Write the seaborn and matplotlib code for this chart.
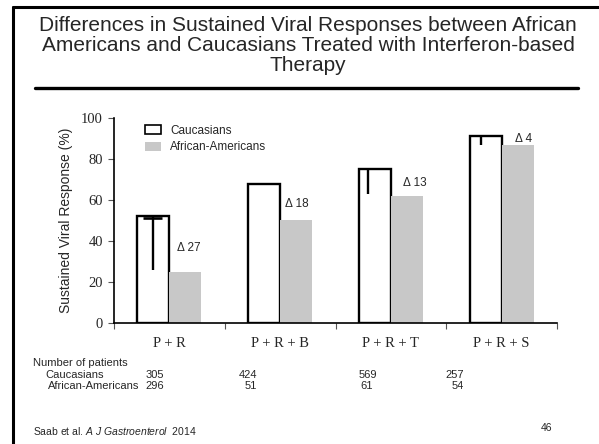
import matplotlib
matplotlib.use("Agg")
import matplotlib.pyplot as plt
from matplotlib.lines import Line2D
from matplotlib.patches import Patch
import seaborn as sns
import pandas as pd

# ---- data ----
regimens = ["P + R", "P + R + B", "P + R + T", "P + R + S"]
caucasians = [52, 68, 75, 91]
african_americans = [25, 50, 62, 87]
cauc_lower = [26, None, 63, 87]          # lower end of the black line inside white bars
n_cauc = ["305", "424", "569", "257"]
n_aa = ["296", "51", "61", "54"]
yticks = [0, 20, 40, 60, 80, 100]
title = ("Differences in Sustained Viral Responses between African\n"
         "Americans and Caucasians Treated with Interferon-based\nTherapy")
ylabel = "Sustained Viral Response (%)"

df = pd.DataFrame({
    "regimen": regimens * 2,
    "svr": caucasians + african_americans,
    "group": ["Caucasians"] * 4 + ["African-Americans"] * 4,
})

sns.set_style("ticks")
plt.rcParams["font.family"] = ["Liberation Sans", "DejaVu Sans"]
plt.rcParams["mathtext.fontset"] = "custom"
plt.rcParams["mathtext.it"] = "Liberation Sans:italic"
plt.rcParams["mathtext.rm"] = "Liberation Sans"

W, H = 599, 444
fig = plt.figure(figsize=(W / 100, H / 100), dpi=100)
ax = fig.add_axes([114 / W, 1 - 323 / H, (557 - 114) / W, (323 - 118) / H])

sns.barplot(data=df, x="regimen", y="svr", hue="group",
            palette={"Caucasians": "white", "African-Americans": "#c8c8c8"},
            width=0.58, gap=0, ax=ax, legend=False, saturation=1)

for p in ax.containers[0]:
    p.set_edgecolor("black")
    p.set_linewidth(1.7)
for p in ax.containers[1]:
    p.set_linewidth(0)

# black lines inside white bars
line_dx = [0.0, 0.0, -0.063, -0.045]
for i, (top, low) in enumerate(zip(caucasians, cauc_lower)):
    if low is None:
        continue
    xc = i - 0.145 + line_dx[i]
    ax.vlines(xc, low, top - 0.5, color="black", lw=1.7, zorder=5)
    if i == 0:
        ax.hlines(top - 0.7, xc - 0.09, xc + 0.08, color="black", lw=1.9, zorder=5)

# delta labels
delta_dy = [11.5, 8, 6.5, 3]
delta_dx = [0.03, 0.01, 0.07, 0.05]
for i, (c, a) in enumerate(zip(caucasians, african_americans)):
    ax.text(i + 0.145 + delta_dx[i], a + delta_dy[i], f"\u0394 {c - a}",
            ha="center", va="center", fontsize=8.5)

ax.set_ylim(0, 100)
ax.set_xlim(-0.5, 3.5)
ax.set_yticks(yticks)
ax.set_yticklabels([str(v) for v in yticks], family="Liberation Serif", fontsize=10.5)
ax.set_xticks(range(4))
ax.set_xticklabels(regimens, family="Liberation Serif", fontsize=10.5)
ax.set_xticks([-0.5, 0.5, 1.5, 2.5, 3.5], minor=True)
ax.tick_params(axis="x", which="major", length=0, pad=10)
ax.tick_params(axis="x", which="minor", length=4, direction="out", width=0.8, color="#555555")
ax.tick_params(axis="y", length=4, width=0.8, pad=4, color="#555555")
ax.set_xlabel("")
ax.set_ylabel(ylabel, fontsize=10, labelpad=6)
sns.despine(ax=ax)
for s in ["left", "bottom"]:
    ax.spines[s].set_linewidth(1.2)
    ax.spines[s].set_color("black")

handles = [Patch(facecolor="white", edgecolor="black", linewidth=1.2, label="Caucasians"),
           Patch(facecolor="#c8c8c8", edgecolor="none", label="African-Americans")]
ax.legend(handles=handles, loc="upper left", bbox_to_anchor=(0.055, 1.0), frameon=False,
          fontsize=8.5, handlelength=1.3, handleheight=0.8, labelspacing=0.35,
          handletextpad=0.8, borderaxespad=0.2)

# title and frame
fig.text(308 / W, 1 - 16 / H, title, ha="center", va="top", fontsize=15,
         linespacing=1.07)
fig.add_artist(Line2D([35 / W, 578 / W], [1 - 88 / H, 1 - 88 / H], color="black", lw=2.4))
fig.add_artist(Line2D([13 / W, 1.0], [1 - 7 / H, 1 - 7 / H], color="black", lw=2.2))
fig.add_artist(Line2D([13 / W, 13 / W], [1 - 7 / H, 0.0], color="black", lw=2.2))

# patients table
fs = 8
fig.text(33 / W, 1 - 363 / H, "Number of patients", fontsize=fs, va="center")
fig.text(45 / W, 1 - 375 / H, "Caucasians", fontsize=fs, va="center")
fig.text(48 / W, 1 - 386 / H, "African-Americans", fontsize=fs, va="center")
col_x = [164, 257, 377, 464]
aa_x = [164, 257, 373, 464]
for i in range(4):
    fig.text(col_x[i] / W, 1 - 375 / H, n_cauc[i], fontsize=fs, va="center", ha="right")
    fig.text(aa_x[i] / W, 1 - 386 / H, n_aa[i], fontsize=fs, va="center", ha="right")

# footer
fig.text(33 / W, 1 - 431 / H,
         r"Saab et al. $\mathit{A\ J\ Gastroenterol}$  2014", fontsize=7.5, va="center")
fig.text(552 / W, 1 - 428 / H, "46", fontsize=7.5, va="center", ha="right")

fig.savefig("out.png", dpi=100)
